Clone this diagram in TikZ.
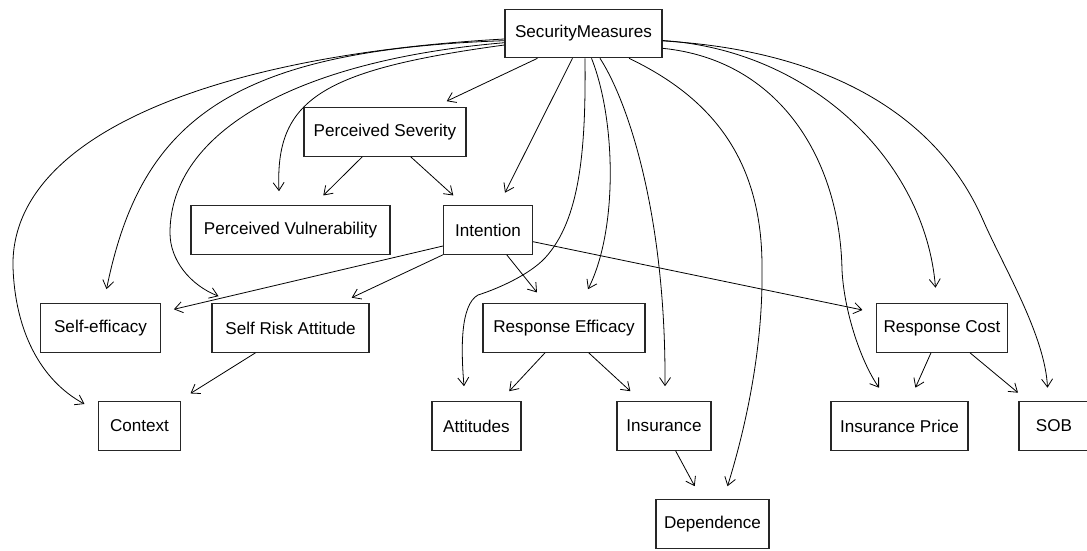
\documentclass[tikz,border=0pt]{standalone}
\usepackage{fontspec}
\setmainfont{Liberation Sans}
\usepackage{tikz}
\usetikzlibrary{arrows.meta}

\begin{document}
\begin{tikzpicture}[x=1pt,y=1pt,
		box/.style={draw=black!85, line width=1.1pt, minimum height=48.5pt, inner sep=0pt,
			font=\fontsize{17.1}{20}\selectfont},
		arr/.style={-{Straight Barb[length=8pt,width=11pt]}, line width=0.8pt}]
		\useasboundingbox (0,0) rectangle (1087,550);
		% nodes, row by row
		\node[box, minimum width=157] (sm) at (583.5,516.5) {SecurityMeasures};
		\node[box, minimum width=162] (ps) at (385,418) {Perceived Severity};
		\node[box, minimum width=199] (pv) at (290.5,320) {Perceived Vulnerability};
		\node[box, minimum width=89] (int) at (488,320) {Intention};
		\node[box, minimum width=120] (se) at (100.5,222) {Self-efficacy};
		\node[box, minimum width=157] (sra) at (290.5,222) {Self Risk Attitude};
		\node[box, minimum width=162] (re) at (564,222) {Response Efficacy};
		\node[box, minimum width=131] (rc) at (942,222) {Response Cost};
		\node[box, minimum width=82] (ctx) at (139.5,124) {Context};
		\node[box, minimum width=89] (att) at (476.5,124) {Attitudes};
		\node[box, minimum width=94] (ins) at (664,124) {Insurance};
		\node[box, minimum width=137] (ip) at (899.5,124) {Insurance Price};
		\node[box, minimum width=70] (sob) at (1054,124) {SOB};
		\node[box, minimum width=113] (dep) at (712.5,26) {Dependence};
		% straight edges
		\path[arr]
		([xshift=-46pt]sm.south) edge ([xshift=61.7pt,yshift=6pt]ps.north)
		([xshift=-11pt]sm.south) edge ([xshift=17pt,yshift=12.5pt]int.north)
		([xshift=-22.7pt]ps.south) edge ([xshift=32.8pt,yshift=9.75pt]pv.north)
		([xshift=25.7pt]ps.south) edge ([xshift=-34.7pt,yshift=9.75pt]int.north)
		([yshift=-16pt]int.west) edge ([xshift=12.8pt,yshift=18.7pt]se.east)
		(int.south west) edge ([xshift=61.2pt,yshift=5.5pt]sra.north)
		([xshift=18.7pt]int.south) edge ([xshift=-27pt,yshift=10.75pt]re.north)
		([yshift=-11.7pt]int.east) edge ([xshift=-13.5pt,yshift=18pt]rc.west)
		([xshift=-35pt]sra.south) edge ([xshift=51pt,yshift=7.75pt]ctx.north)
		([xshift=-19pt]re.south) edge ([xshift=32.7pt,yshift=10pt]att.north)
		([xshift=24.7pt]re.south) edge ([xshift=-33.6pt,yshift=10pt]ins.north)
		([xshift=11.6pt]ins.south) edge ([xshift=-17.8pt,yshift=13pt]dep.north)
		([xshift=-11pt]rc.south) edge ([xshift=15.9pt,yshift=13.5pt]ip.north)
		([xshift=28pt]rc.south) edge ([xshift=-36pt,yshift=8.5pt]sob.north)
		;
		% curved edges out of SecurityMeasures
		\draw[arr] ([yshift=-5.5pt]sm.west) .. controls (215,495) and (10,415) .. (13,283)
		.. controls (15,220) and (40,170) .. ([xshift=-13.5pt,yshift=22pt]ctx.west);
		\draw[arr] ([yshift=-7.2pt]sm.west) .. controls (225,500) and (140,425) .. ([xshift=6pt,yshift=14pt]se.north);
		\draw[arr] ([yshift=-9.2pt]sm.west) .. controls (300,490) and (170,420) .. (170,317)
		.. controls (170,290) and (190,265) .. ([xshift=-72pt,yshift=7pt]sra.north);
		\draw[arr] ([yshift=-11.5pt]sm.west) .. controls (320,480) and (275,450) .. ([xshift=-11.5pt,yshift=14pt]pv.north);
		\draw[arr] ([xshift=1.5pt]sm.south) .. controls (586,400) and (580,330) .. (545,292)
		.. controls (530,276) and (500,262) .. (478,255)
		.. controls (460,245) and (461,200) .. ([xshift=-12.5pt,yshift=15pt]att.north);
		\draw[arr] ([xshift=8pt]sm.south) .. controls (616,430) and (618,320) .. ([xshift=24pt,yshift=14pt]re.north);
		\draw[arr] ([xshift=16.5pt]sm.south) .. controls (630,445) and (666,330) .. ([xshift=1pt,yshift=15pt]ins.north);
		\draw[arr] ([xshift=45.5pt]sm.south) .. controls (712,452) and (763,390) .. (762,280)
		.. controls (763,200) and (745,120) .. ([xshift=15pt,yshift=13pt]dep.north);
		\draw[arr] ([yshift=-14.8pt]sm.east) .. controls (780,490) and (840,390) .. (842,280)
		.. controls (844,240) and (860,190) .. ([xshift=-20.5pt,yshift=13.5pt]ip.north);
		\draw[arr] ([yshift=-7pt]sm.east) .. controls (810,500) and (925,390) .. ([xshift=-6.5pt,yshift=15.5pt]rc.north);
		\draw[arr] ([yshift=-7.4pt]sm.east) .. controls (820,500) and (935,440) .. (983,330)
		.. controls (1003,284) and (1045,215) .. ([xshift=-6.5pt,yshift=13.5pt]sob.north);
	\end{tikzpicture}
\end{document}
